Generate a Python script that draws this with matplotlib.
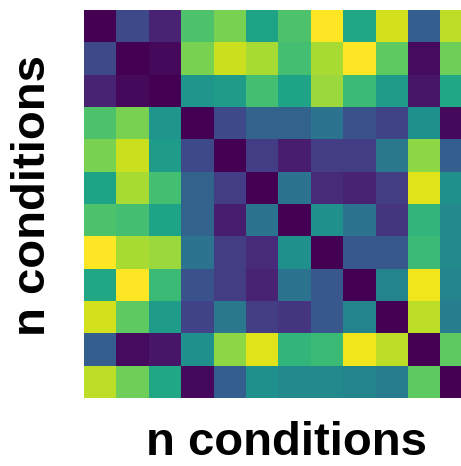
import matplotlib
matplotlib.use("Agg")
import matplotlib.pyplot as plt
import numpy as np

# pairwise distances between the 12 conditions
row_00 = [0.00, 0.22, 0.10, 0.72, 0.80, 0.58, 0.72, 1.00, 0.60, 0.93, 0.30, 0.90]
row_01 = [0.22, 0.00, 0.02, 0.80, 0.92, 0.87, 0.70, 0.87, 1.00, 0.75, 0.03, 0.78]
row_02 = [0.10, 0.02, 0.00, 0.52, 0.55, 0.70, 0.58, 0.85, 0.68, 0.55, 0.06, 0.60]
row_03 = [0.72, 0.80, 0.52, 0.00, 0.22, 0.32, 0.32, 0.38, 0.25, 0.20, 0.50, 0.02]
row_04 = [0.80, 0.92, 0.55, 0.22, 0.00, 0.18, 0.08, 0.18, 0.18, 0.40, 0.83, 0.30]
row_05 = [0.58, 0.87, 0.70, 0.32, 0.18, 0.00, 0.38, 0.12, 0.10, 0.18, 0.95, 0.50]
row_06 = [0.72, 0.70, 0.58, 0.32, 0.08, 0.38, 0.00, 0.50, 0.38, 0.15, 0.66, 0.47]
row_07 = [1.00, 0.87, 0.85, 0.38, 0.18, 0.12, 0.50, 0.00, 0.27, 0.27, 0.68, 0.47]
row_08 = [0.60, 1.00, 0.68, 0.25, 0.18, 0.10, 0.38, 0.27, 0.00, 0.45, 0.98, 0.45]
row_09 = [0.93, 0.75, 0.55, 0.20, 0.40, 0.18, 0.15, 0.27, 0.45, 0.00, 0.90, 0.42]
row_10 = [0.30, 0.03, 0.06, 0.50, 0.83, 0.95, 0.66, 0.68, 0.98, 0.90, 0.00, 0.75]
row_11 = [0.90, 0.78, 0.60, 0.02, 0.30, 0.50, 0.47, 0.47, 0.45, 0.42, 0.75, 0.00]

dist = np.array([row_00, row_01, row_02, row_03, row_04, row_05,
                 row_06, row_07, row_08, row_09, row_10, row_11])

fig = plt.figure(figsize=(4.61, 4.66), dpi=100)
# heatmap runs a little past the right edge, like the reference
ax = fig.add_axes([84 / 461, 1 - 398 / 466, 388 / 461, 388 / 466])
ax.imshow(dist, cmap="viridis", vmin=0, vmax=1, aspect="auto",
          interpolation="nearest")
ax.set_xticks([])
ax.set_yticks([])
for s in ax.spines.values():
    s.set_visible(False)

font = dict(family="Liberation Sans", weight="bold", size=34)
fig.text(286 / 461, 1 - 455 / 466, "n conditions", ha="center", va="baseline", **font)
fig.text(45 / 461, 1 - 196 / 466, "n conditions", ha="center", va="baseline",
         rotation=90, rotation_mode="anchor", **font)

fig.savefig("out.png", dpi=100)
